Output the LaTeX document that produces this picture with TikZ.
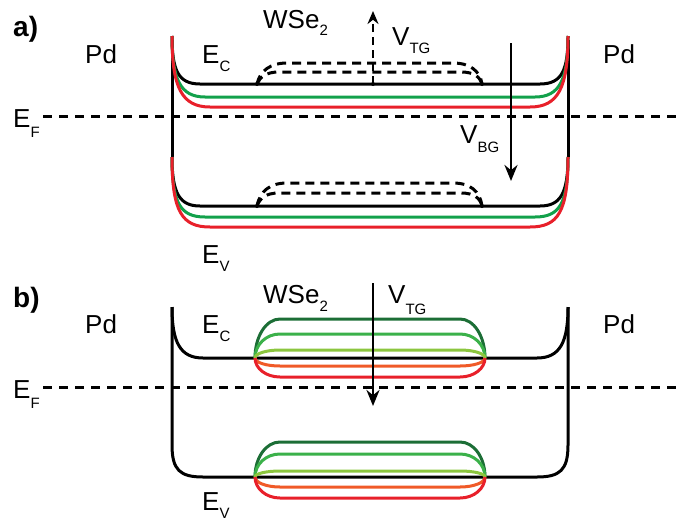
\documentclass[tikz,border=0pt]{standalone}
\usepackage{fontspec}
\setmainfont{Liberation Sans}
\usetikzlibrary{arrows.meta}
\definecolor{aRed}{HTML}{E8202A}
\definecolor{aGreen}{HTML}{12A14B}
\definecolor{dkGreen}{HTML}{1C6E36}
\definecolor{mdGreen}{HTML}{3BB14A}
\definecolor{ltGreen}{HTML}{8CC63F}
\definecolor{bOrange}{HTML}{F05A28}
\definecolor{bRed}{HTML}{E8202A}
\newcommand{\lsub}[2][9pt]{\raisebox{-#1}{\fontsize{15}{15}\selectfont #2}}
\newcommand{\stadium}[3]{%
  \pgfmathsetmacro{\cyv}{#2+0.552*(#3-#2)}%
  \draw[band,#1] (255,#2) .. controls (255,\cyv) and (266,#3) .. (280,#3) -- (460,#3) .. controls (474,#3) and (485,\cyv) .. (485,#2);}
\begin{document}
\begin{tikzpicture}[x=1pt,y=-1pt,
  band/.style={line width=3pt},
  fermi/.style={line width=3pt,dash pattern=on 9pt off 7pt},
  bump/.style={line width=3pt,dash pattern=on 9pt off 6pt},
  lbl/.style={anchor=base west,inner sep=0pt,font=\fontsize{26}{26}\selectfont},
  panel/.style={anchor=base west,inner sep=0pt,font=\fontsize{28}{28}\selectfont\bfseries},
  varrow/.style={line width=2.8pt,-{Stealth[length=16pt,width=13pt]}}]
\useasboundingbox (0,0) rectangle (676,522);
% ---------- panel a ----------
\node[panel] (pa) at (13,36) {a)};
\node[lbl] (pdal) at (85,63) {Pd};
\node[lbl] (pdar) at (603,63) {Pd};
\node[lbl] (eca) at (202,63) {E\lsub[8pt]{C}};
\node[lbl] (efa) at (13,127) {E\lsub[10pt]{F}};
\node[lbl] (eva) at (202,263) {E\lsub[8pt]{V}};
\node[lbl] (wsea) at (263,28) {WSe\lsub[7pt]{2}};
\node[lbl] (vtga) at (392,45) {V\lsub[8pt]{TG}};
\node[lbl] (vbga) at (460,143) {V\lsub[9pt]{BG}};
% walls
\draw[band] (172,40) -- (172,157);
\draw[band] (568,40) -- (568,157);
% conduction band
\draw[band] (172,36) .. controls (172,70) and (178,84) .. (200,84) -- (540,84) .. controls (562,84) and (568,70) .. (568,36);
\draw[band,aGreen] (172,36) .. controls (172,79) and (180,97) .. (205,97) -- (535,97) .. controls (560,97) and (568,79) .. (568,36);
\draw[band,aRed] (172,36) .. controls (172,88) and (182,107) .. (210,107) -- (530,107) .. controls (558,107) and (568,88) .. (568,36);
% valence band
\draw[band] (172,157) .. controls (172,194) and (180,206) .. (200,206) -- (540,206) .. controls (560,206) and (568,194) .. (568,157);
\draw[band,aGreen] (172,157) .. controls (172,203) and (180,217) .. (205,217) -- (535,217) .. controls (560,217) and (568,203) .. (568,157);
\draw[band,aRed] (172,157) .. controls (172,212) and (182,227) .. (210,227) -- (530,227) .. controls (558,227) and (568,212) .. (568,157);
% dashed bumps
\foreach \yb/\yo/\yi in {84/63/72, 206/183/193}{
  \fill (257,\yb) circle (2pt) (482,\yb) circle (2pt);
  \draw[bump] (257,\yb) .. controls (260,\yo+8) and (270,\yo) .. (287,\yo) -- (453,\yo) .. controls (470,\yo) and (480,\yo+8) .. (482,\yb);
  \draw[bump] (257,\yb) .. controls (260,\yi+5) and (266,\yi) .. (279,\yi) -- (461,\yi) .. controls (474,\yi) and (480,\yi+5) .. (482,\yb);
}
% Fermi level
\draw[fermi] (43,116) -- (676,116);
% arrows
\coordinate (tga0) at (373,84);
\coordinate (tga1) at (373,11);
\fill (tga0) circle (2pt);
\draw[line width=2.8pt,dash pattern=on 8pt off 5pt,-{Stealth[length=13pt,width=11pt]}] (tga0) -- (tga1);
\coordinate (bga0) at (511,43);
\coordinate (bga1) at (511,181);
\draw[varrow] (bga0) -- (bga1);
% ---------- panel b ----------
\node[panel] (pb) at (13,307) {b)};
\node[lbl] (pdbl) at (85,333) {Pd};
\node[lbl] (pdbr) at (603,333) {Pd};
\node[lbl] (ecb) at (202,333) {E\lsub[8pt]{C}};
\node[lbl] (efb) at (13,398) {E\lsub[10pt]{F}};
\node[lbl] (evb) at (202,510) {E\lsub[8pt]{V}};
\node[lbl] (wseb) at (263,303) {WSe\lsub[8pt]{2}};
\node[lbl] (vtgb) at (388,303) {V\lsub[11pt]{TG}};
% black bands
\draw[band] (172,307) .. controls (172,342) and (180,358) .. (203,358) -- (537,358) .. controls (560,358) and (568,342) .. (568,307);
\draw[band] (172,307) -- (172,445) .. controls (172,470) and (180,477) .. (203,477) -- (537,477) .. controls (560,477) and (568,470) .. (568,445) -- (568,307);
% stadiums
\stadium{dkGreen}{358}{319}
\stadium{mdGreen}{358}{334}
\stadium{ltGreen}{358}{350}
\stadium{bOrange}{358}{366}
\stadium{bRed}{358}{377}
\stadium{dkGreen}{477}{442}
\stadium{mdGreen}{477}{454}
\stadium{ltGreen}{477}{471}
\stadium{bOrange}{477}{487}
\stadium{bRed}{477}{498}
% Fermi level
\draw[fermi] (43,387) -- (676,387);
% arrow
\coordinate (tgb0) at (373,283);
\coordinate (tgb1) at (373,406);
\draw[varrow] (tgb0) -- (tgb1);
\end{tikzpicture}
\end{document}
